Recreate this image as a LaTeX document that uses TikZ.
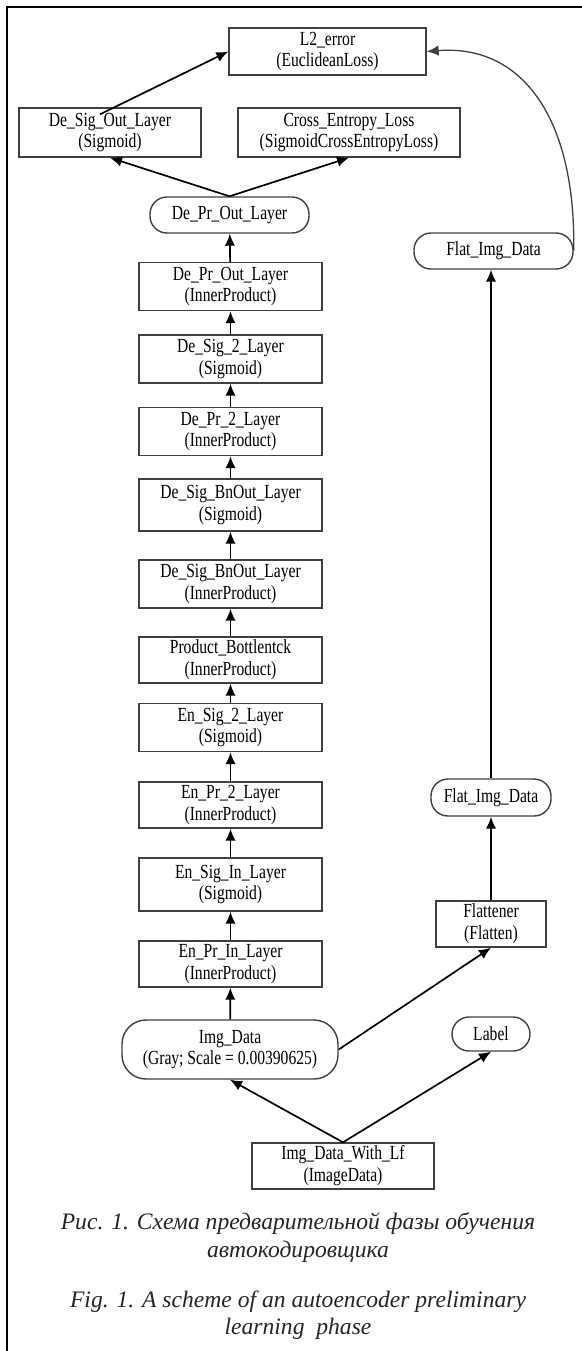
\documentclass[tikz,border=0pt]{standalone}
\usepackage{fontspec}
\setmainfont{Liberation Serif}
\newfontfamily\boxfont[FakeStretch=0.78]{Liberation Serif}
\usepackage{tikz}
\usetikzlibrary{calc, arrows.meta}
\tikzset{>={Latex[length=6pt, width=5.2pt]}}
\definecolor{mygray}{RGB}{64, 64, 64}
\tikzset{layer/.style = {draw = mygray, line width = 0.7pt, inner sep = 0pt, align = center,
    font = \boxfont\fontsize{10}{10.9}\selectfont, minimum width = 91.5pt, minimum height = 24pt},
  blob/.style = {layer, rounded corners = 8.5pt},
  link/.style = {->, line width = 0.85pt}}

\begin{document}
\begin{tikzpicture}[x = 0.5pt, y = -0.5pt]
\useasboundingbox (0,0) rectangle (582,1351);
\draw[line width = 1pt] (582,7) -- (7,7) -- (7,1351);

\node[layer, minimum width = 98.5pt, minimum height = 23.5pt] (l2) at (327.5, 51.5) {L2\_error\\(EuclideanLoss)};
\node[layer, minimum width = 91pt, minimum height = 24.5pt] (desigout) at (110, 132.5) {De\_Sig\_Out\_Layer\\(Sigmoid)};
\node[layer, minimum width = 111pt, minimum height = 24.5pt] (cross) at (349, 132.5) {Cross\_Entropy\_Loss\\(SigmoidCrossEntropyLoss)};
\node[blob, minimum width = 79.5pt, minimum height = 18pt] (deprout) at (229.5, 215) {De\_Pr\_Out\_Layer};
\node[blob, minimum width = 79.5pt, minimum height = 18pt] (flatA) at (493.5, 251) {Flat\_Img\_Data};

\node[layer] (deprip) at (230.5, 286.5) {De\_Pr\_Out\_Layer\\(InnerProduct)};
\node[layer] (desig2) at (230.5, 359) {De\_Sig\_2\_Layer\\(Sigmoid)};
\node[layer] (depr2) at (230.5, 431.5) {De\_Pr\_2\_Layer\\(InnerProduct)};
\node[layer, minimum height = 26pt] (desigbn) at (230.5, 505) {De\_Sig\_BnOut\_Layer\\(Sigmoid)};
\node[layer] (deprbn) at (230.5, 584) {De\_Sig\_BnOut\_Layer\\(InnerProduct)};
\node[layer, minimum height = 23pt] (bottl) at (230.5, 660) {Product\_Bottlentck\\(InnerProduct)};
\node[layer] (ensig2) at (230.5, 727.5) {En\_Sig\_2\_Layer\\(Sigmoid)};
\node[layer, minimum height = 23pt] (enpr2) at (230.5, 805) {En\_Pr\_2\_Layer\\(InnerProduct)};
\node[layer, minimum height = 26.5pt] (ensigin) at (230.5, 884.5) {En\_Sig\_In\_Layer\\(Sigmoid)};
\node[layer, minimum height = 23pt] (enprin) at (230.5, 964) {En\_Pr\_In\_Layer\\(InnerProduct)};

\node[blob, minimum width = 60pt, minimum height = 18.5pt] (flatB) at (491, 797.5) {Flat\_Img\_Data};
\node[layer, minimum width = 55pt, minimum height = 23pt] (flattener) at (491, 924) {Flattener\\(Flatten)};
\node[blob, rounded corners = 12pt, minimum width = 108pt, minimum height = 29.5pt] (imgdata) at (230, 1049.5) {Img\_Data\\(Gray; Scale = 0.00390625)};
\node[blob, minimum width = 39pt, minimum height = 17pt] (label) at (491, 1034) {Label};
\node[layer, minimum width = 91pt, minimum height = 23pt] (withlf) at (343, 1166) {Img\_Data\_With\_Lf\\(ImageData)};

\foreach \a/\b in {imgdata/enprin, enprin/ensigin, ensigin/enpr2, enpr2/ensig2, ensig2/bottl, bottl/deprbn,
  deprbn/desigbn, desigbn/depr2, depr2/desig2, desig2/deprip, deprip/deprout}
  \draw[link] (\a) -- (\b);
\draw[link] (deprout.north) -- (desigout.south);
\draw[link] (deprout.north) -- (cross.south);
\draw[link] ($(desigout.north)+(-10,7)$) -- (l2.west);
\draw[link, mygray, line width = 0.65pt] (flatA.east) .. controls (576,118) and (522,44) .. (l2.east);
\draw[link] (flatB.north) -- (flatB.north |- flatA.south);
\draw[link] (flattener.north) -- (flattener.north |- flatB.south);
\draw[link] (imgdata.east) -- (flattener.south);
\draw[link] (withlf.north) -- (imgdata.south);
\draw[link] (withlf.north) -- (label.south);

\node[align = center, font = \itshape\fontsize{11.8}{14}\selectfont, text = black!85] (capru) at (298, 1237.5)
  {Рис. 1. Схема предварительной фазы обучения\\автокодировщика};
\node[align = center, font = \itshape\fontsize{11.8}{13.2}\selectfont, text = black!85] (capen) at (298, 1315)
  {Fig. 1. A scheme of an autoencoder preliminary\\learning~ phase};
\end{tikzpicture}
\end{document}
